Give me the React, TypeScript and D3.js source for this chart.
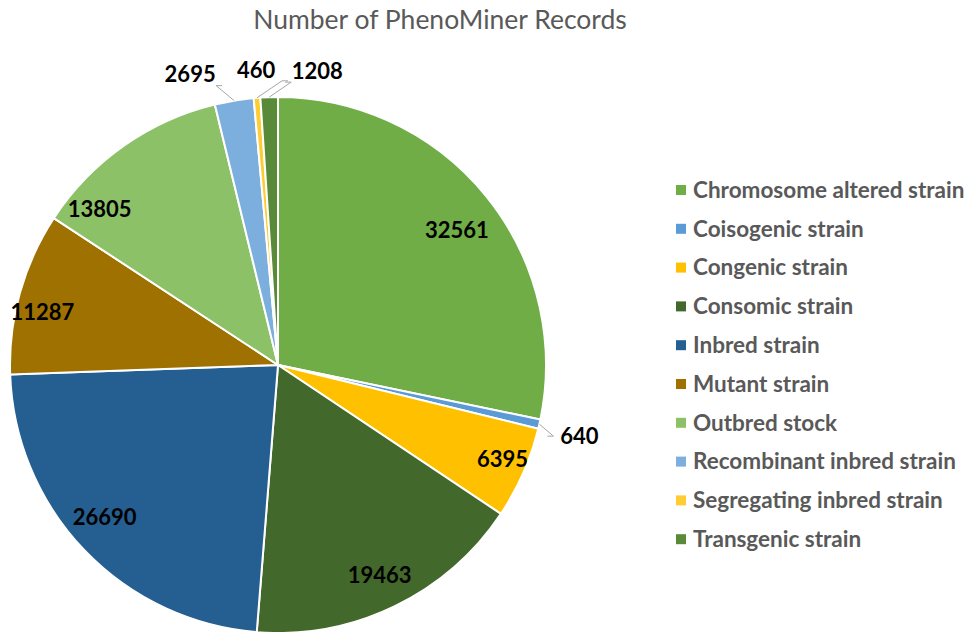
import React, { useEffect, useRef } from 'react';
import * as d3 from 'd3';

const categories = [
	'Chromosome altered strain',
	'Coisogenic strain',
	'Congenic strain',
	'Consomic strain',
	'Inbred strain',
	'Mutant strain',
	'Outbred stock',
	'Recombinant inbred strain',
	'Segregating inbred strain',
	'Transgenic strain',
];
const records = [32561, 640, 6395, 19463, 26690, 11287, 13805, 2695, 460, 1208];
const colors = [
	'#70AD47', '#5B9BD5', '#FFC000', '#43682B', '#255E91',
	'#9E7100', '#8CC168', '#7CAFDD', '#FFCD33', '#588A38',
];
const title = 'Number of PhenoMiner Records';

// small slices put their label outside the pie (offset of label centre from the arc edge)
const outsideLabels: Record<string, [number, number]> = {
	'Coisogenic strain': [40, 12],
	'Recombinant inbred strain': [-44, -26],
	'Segregating inbred strain': [-1, -28],
	'Transgenic strain': [48, -26],
};
// excel's "best fit" doesn't sit exactly on the centroid, nudge a few
const labelNudge: Record<string, [number, number]> = {
	'Chromosome altered strain': [-2, 12],
	'Congenic strain': [11, 0],
	'Inbred strain': [-5, -9],
	'Mutant strain': [-11, 10],
	'Outbred stock': [-44, 35],
};

export default function App() {
	const ref = useRef<SVGSVGElement>(null);

	useEffect(() => {
		const svg = d3.select(ref.current);
		svg.selectAll('*').remove();

		const cx = 278;
		const cy = 365;
		const r = 268;
		const font = 'Lato, "Open Sans", sans-serif';

		svg.append('text')
			.attr('x', 440)
			.attr('y', 29)
			.attr('text-anchor', 'middle')
			.attr('font-family', font)
			.attr('font-size', 26.5)
			.attr('fill', '#595959')
			.text(title);

		const data = categories.map((c, i) => ({ name: c, value: records[i], color: colors[i] }));
		const pie = d3.pie<any>().value((d) => d.value).sort(null);
		const arcs = pie(data);
		const arc = d3.arc<any>().innerRadius(0).outerRadius(r);

		const g = svg.append('g').attr('transform', `translate(${cx},${cy})`);

		g.selectAll('path')
			.data(arcs)
			.enter()
			.append('path')
			.attr('d', arc)
			.attr('fill', (d) => d.data.color)
			.attr('stroke', '#fff')
			.attr('stroke-width', 2);

		const labelArc = d3.arc<any>().innerRadius(r * 0.87).outerRadius(r * 0.87);
		const edgeArc = d3.arc<any>().innerRadius(r).outerRadius(r);

		arcs.forEach((d) => {
			const off = outsideLabels[d.data.name];
			let [x, y] = labelArc.centroid(d);
			const nudge = labelNudge[d.data.name];
			if (nudge) {
				x += nudge[0];
				y += nudge[1];
			}
			if (off) {
				const [ex, ey] = edgeArc.centroid(d);
				x = ex + off[0];
				y = ey + off[1];
				const dir = Math.sign(off[0]);
				const lx = x - dir * 26;
				const ly = y + (off[1] < 0 ? 11 : 0);
				g.append('polyline')
					.attr('points', dir === 0
						? `${ex},${ey} ${x},${y + 13}`
						: `${ex},${ey} ${lx},${ly} ${lx - dir * 6},${ly}`)
					.attr('fill', 'none')
					.attr('stroke', '#A6A6A6')
					.attr('stroke-width', 1);
			}
			g.append('text')
				.attr('x', x)
				.attr('y', y)
				.attr('dy', '0.35em')
				.attr('text-anchor', 'middle')
				.attr('font-family', font)
				.attr('font-weight', 'bold')
				.attr('font-size', 22)
				.attr('fill', '#000')
				.text(d.data.value);
		});

		const legend = svg.append('g').attr('transform', 'translate(676,190)');
		const rows = d3.scaleBand().domain(categories).range([0, 388]);
		categories.forEach((c, i) => {
			const y = rows(c) as number;
			legend.append('rect')
				.attr('x', 0)
				.attr('y', y - 5)
				.attr('width', 10)
				.attr('height', 10)
				.attr('fill', colors[i]);
			legend.append('text')
				.attr('x', 17)
				.attr('y', y)
				.attr('dy', '0.35em')
				.attr('font-family', font)
				.attr('font-weight', 'bold')
				.attr('font-size', 22.5)
				.attr('fill', '#595959')
				.text(c);
		});
	}, []);

	return (
		<svg
			ref={ref}
			width={974}
			height={632}
			style={{ position: 'absolute', left: 0, top: 0, background: '#fff' }}
		/>
	);
}
